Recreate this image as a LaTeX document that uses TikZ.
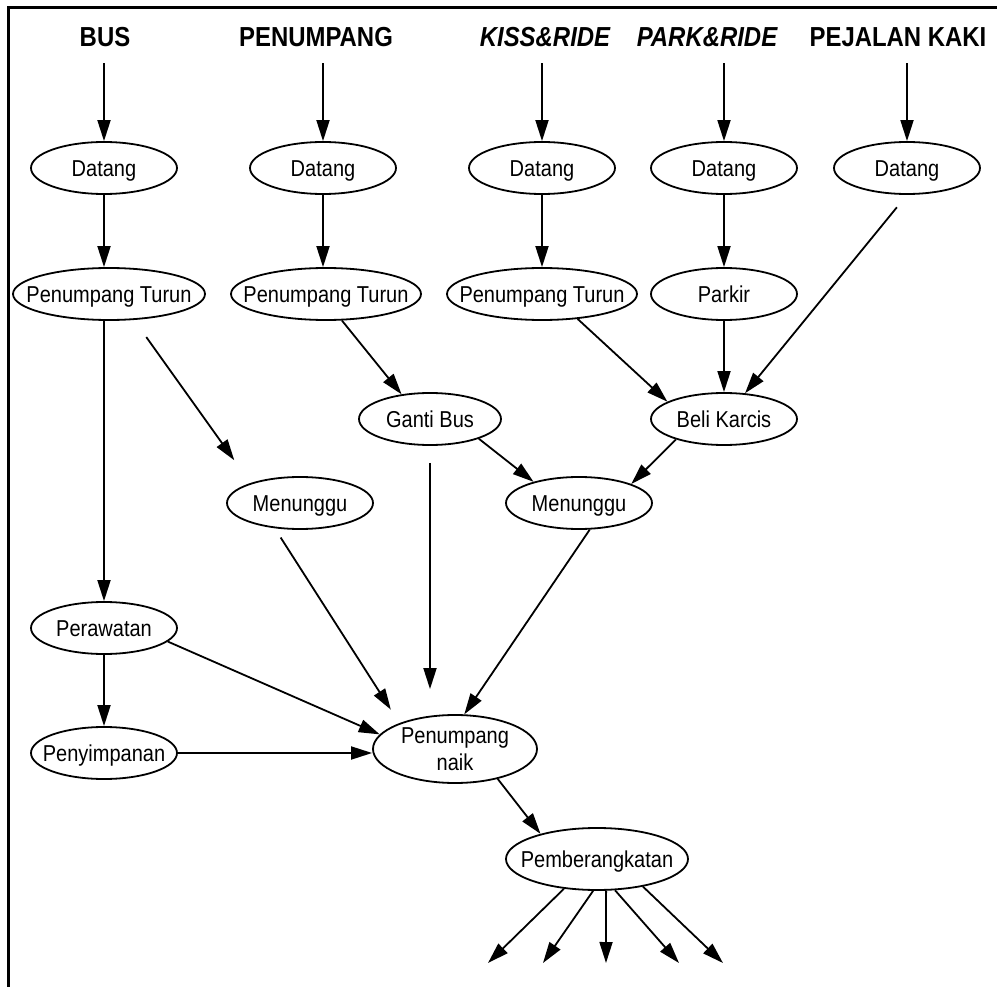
\documentclass[tikz,border=0pt]{standalone}
\usepackage{fontspec}
\setmainfont[FakeStretch=0.87]{Liberation Sans}
\usepackage{tikz}
\usetikzlibrary{shapes.geometric, arrows.meta, positioning, calc}
\tikzset{
  proc/.style={ellipse,draw,line width=1.8pt,inner xsep=-20pt,inner ysep=0pt,
    minimum width=146pt,minimum height=52pt,align=center,
    text height=16.5pt,text depth=0pt,
    font=\fontsize{23}{27}\selectfont},
  head/.style={inner sep=0pt,anchor=base,text depth=0pt,
    font=\fontsize{27.5}{32}\selectfont\bfseries},
  arr/.style={-{Triangle[length=21pt,width=13pt]},line width=1.8pt}
}

\begin{document}
\begin{tikzpicture}[x=1pt,y=-1pt]
  \useasboundingbox (0,0) rectangle (997,987);
  \draw[line width=3pt] (8,1000) |- (1010,8);

  %% Sumber
  \node[head] (hbus) at (105,47) {BUS};
  \node[head] (hpen) at (316,47) {PENUMPANG};
  \node[head,font=\fontsize{27.5}{32}\selectfont\bfseries\itshape] (hkiss) at (545,47) {KISS\&RIDE};
  \node[head,font=\fontsize{27.5}{32}\selectfont\bfseries\itshape] (hpark) at (707,47) {PARK\&RIDE};
  \node[head] (hpej) at (898,47) {PEJALAN KAKI};

  \node[proc] (d1) at (104,168) {Datang};
  \node[proc] (d2) at (323,168) {Datang};
  \node[proc] (d3) at (542,168) {Datang};
  \node[proc] (d4) at (724,168) {Datang};
  \node[proc] (d5) at (907,168) {Datang};

  \node[proc,minimum width=192pt] (pt1) at (109,294) {Penumpang Turun};
  \node[proc,minimum width=190pt] (pt2) at (326,294) {Penumpang Turun};
  \node[proc,minimum width=190pt] (pt3) at (542,294) {Penumpang Turun};
  \node[proc] (parkir) at (724,294) {Parkir};

  \node[proc,minimum width=142pt] (ganti) at (430,419) {Ganti Bus};
  \node[proc] (beli) at (724,419) {Beli Karcis};
  \node[proc] (men1) at (300,503) {Menunggu};
  \node[proc] (men2) at (579,503) {Menunggu};

  \node[proc] (pera) at (104,628) {Perawatan};
  \node[proc] (peny) at (104,753) {Penyimpanan};
  \node[proc,minimum width=164pt,minimum height=68pt,text height=43.5pt] (naik) at (455,749) {Penumpang\\naik};
  \node[proc,minimum width=182pt,minimum height=62pt] (pemb) at (597,859) {Pemberangkatan};

  \foreach \i/\x in {1/488,2/543,3/606,4/679,5/723}
    \coordinate (out\i) at (\x,963);

  %% Panah
  \draw[arr,shorten <=16pt] (d1 |- hbus.south) -- (d1);
  \draw[arr,shorten <=16pt] (d2 |- hpen.south) -- (d2);
  \draw[arr,shorten <=16pt] (d3 |- hkiss.south) -- (d3);
  \draw[arr,shorten <=16pt] (d4 |- hpark.south) -- (d4);
  \draw[arr,shorten <=16pt] (d5 |- hpej.south) -- (d5);

  \draw[arr] (d1) -- (d1 |- pt1.north);
  \draw[arr] (d2) -- (d2 |- pt2.north);
  \draw[arr] (d3) -- (pt3);
  \draw[arr] (d4) -- (parkir);
  \draw[arr,shorten <=16pt] (d5.south) -- (beli);

  \draw[arr] (pera |- pt1.south) -- (pera);
  \draw[arr,shorten <=21pt,shorten >=28pt] (pt1.-46) -- (men1.158);
  \draw[arr] (pt2.-59) -- (ganti.139);
  \draw[arr] (pt3.-35) -- (beli.163);
  \draw[arr] (parkir) -- (beli);

  \draw[arr] (ganti.-22) -- (men2.155);
  \draw[arr] (beli.-157) -- (men2.20);
  \draw[arr,shorten <=17pt,shorten >=25pt] (ganti.south) -- (ganti.south |- naik.north);
  \draw[arr,shorten <=11pt,shorten >=16pt] (men1.225) -- (naik.155);
  \draw[arr] (men2.-68) -- (naik.75);

  \draw[arr] (pera) -- (peny);
  \draw[arr] (pera.-12) -- (naik.169);
  \draw[arr] (peny) -- (peny -| naik.west);
  \draw[arr] (naik.-35) -- (pemb.156);

  \foreach \a/\i in {222/1,263/2,-74/3,-60/4,-31/5}
    \draw[arr] (pemb.\a) -- (out\i);
\end{tikzpicture}
\end{document}
